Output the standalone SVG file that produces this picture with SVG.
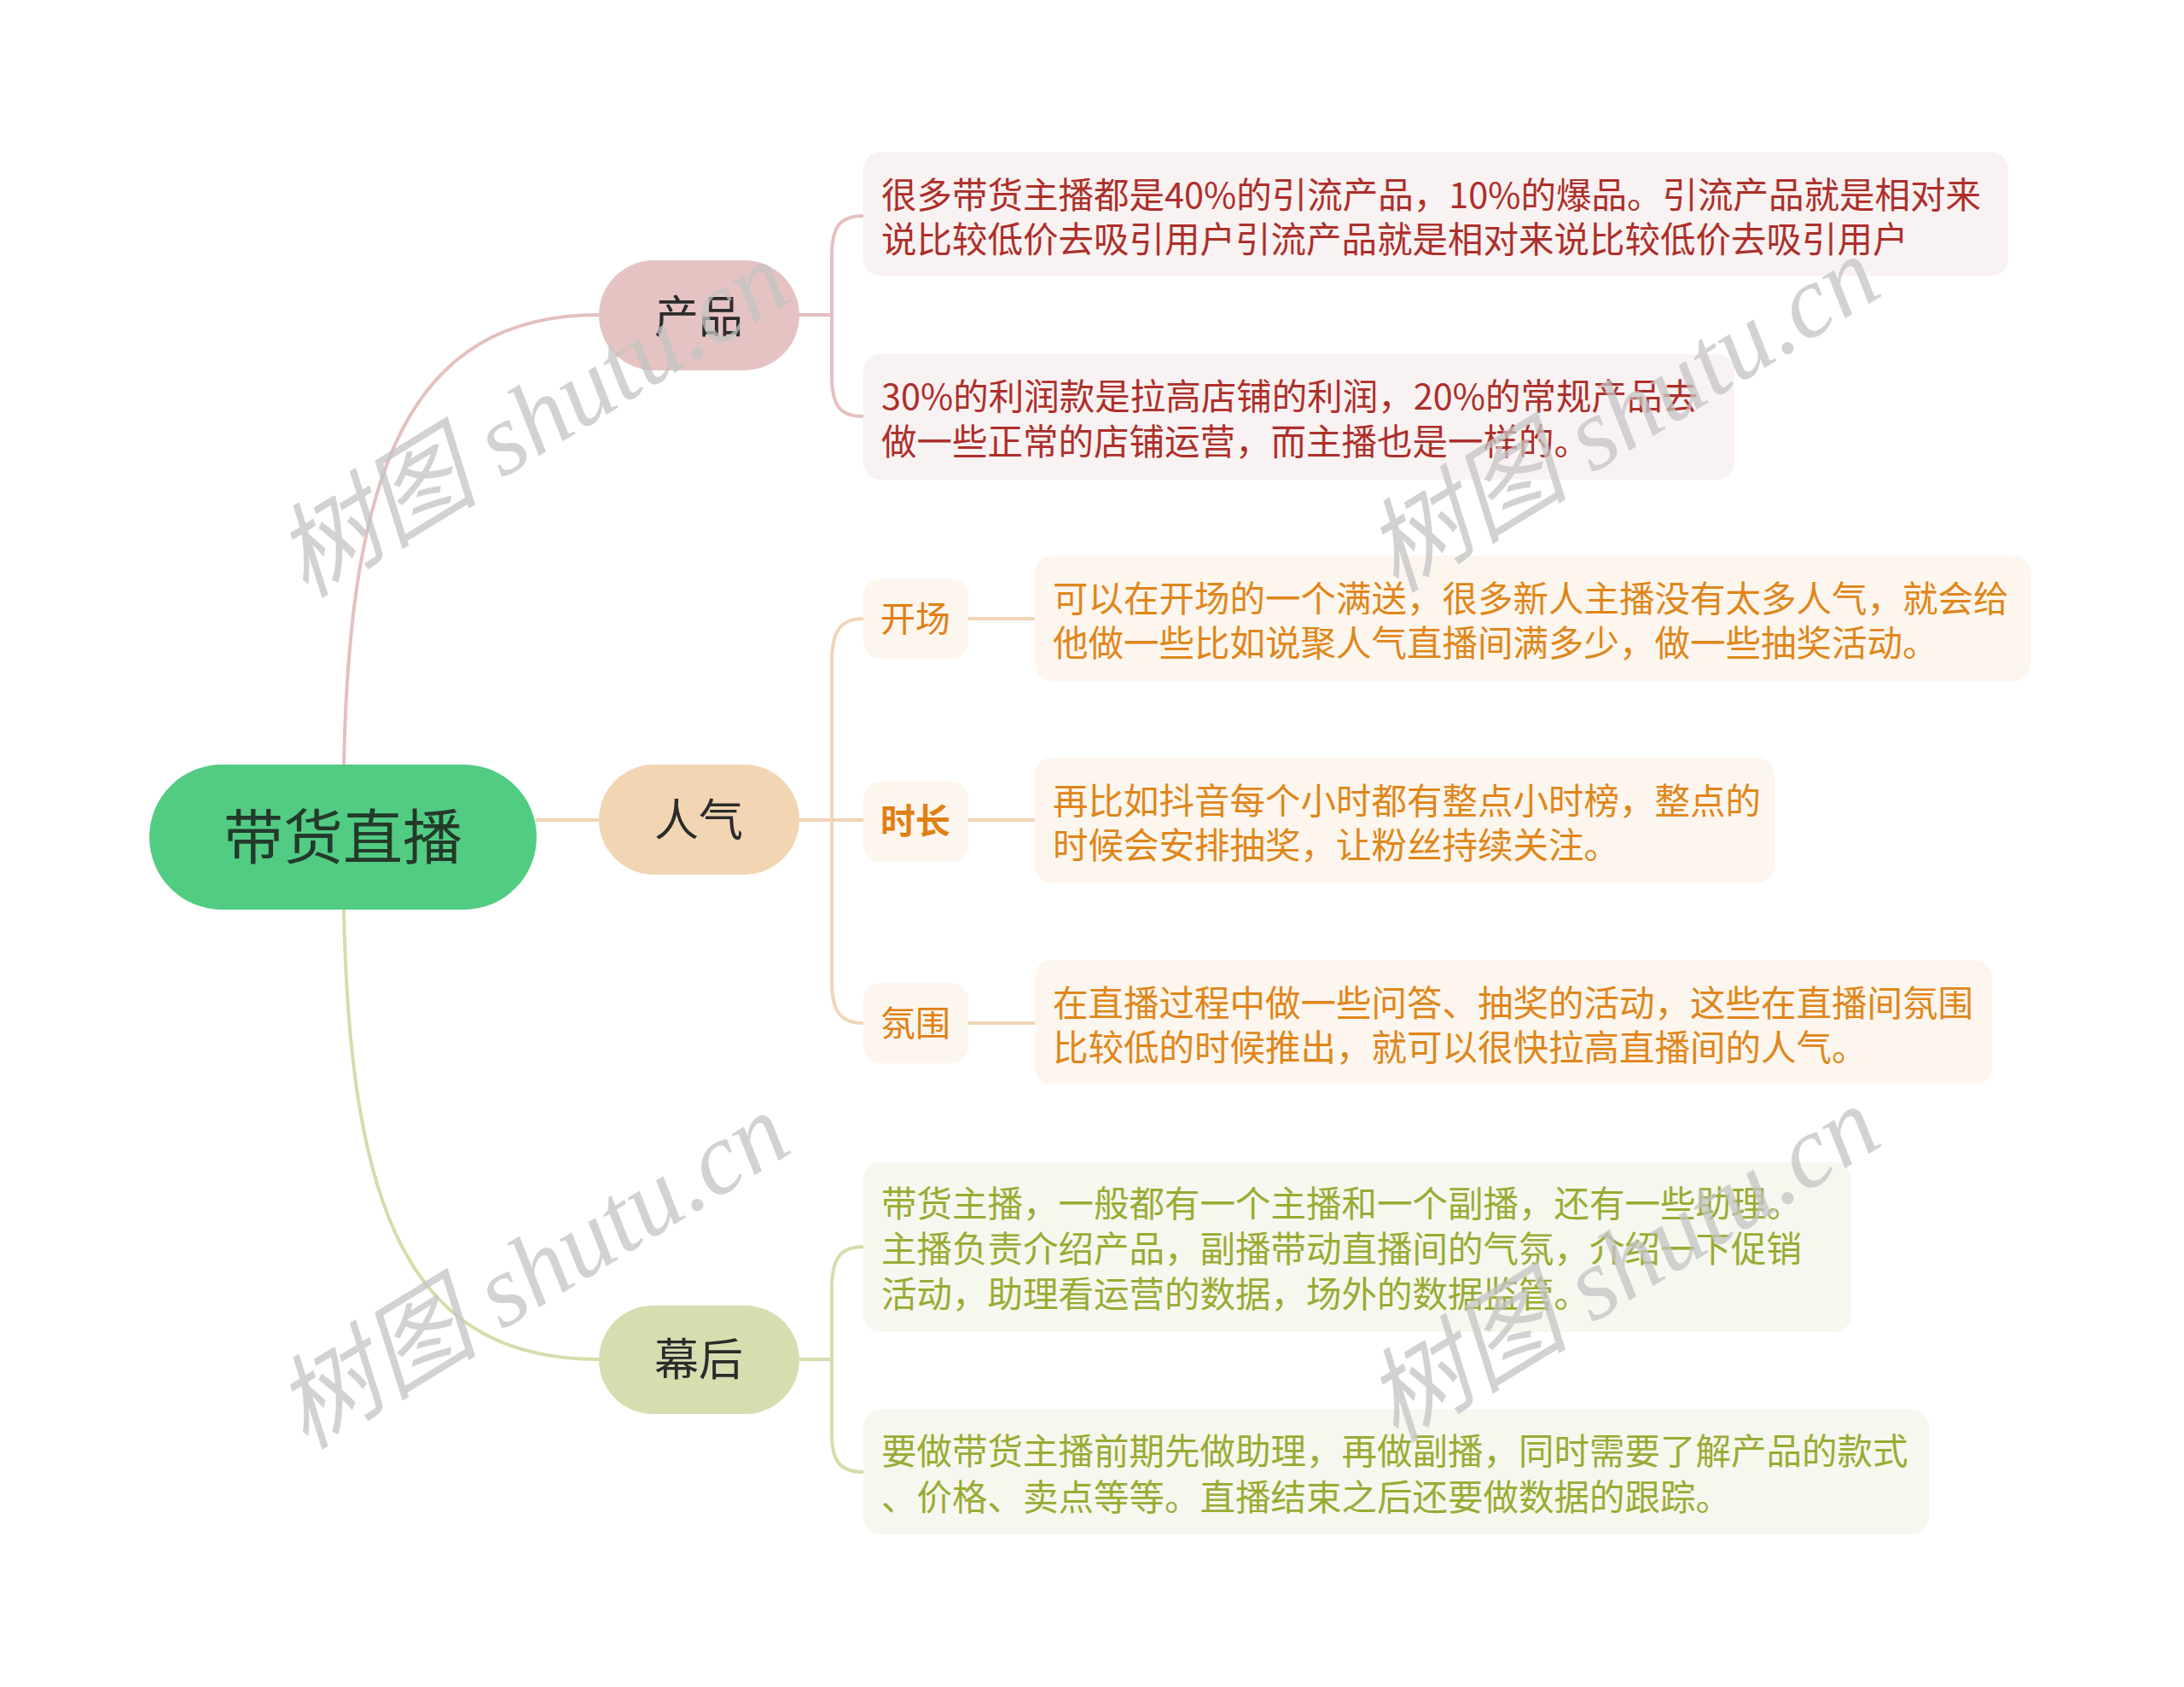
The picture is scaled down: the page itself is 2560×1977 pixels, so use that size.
<svg xmlns="http://www.w3.org/2000/svg" width="2560" height="1977" viewBox="0 0 2560 1977">
<style>
text{font-family:"Noto Sans CJK SC","Noto Sans",sans-serif;}
.c{fill:none;stroke-width:4;stroke-linecap:round}
.cp{stroke:#e4c0c0}
.co{stroke:#f1d5b5}
.cg{stroke:#d7dcab}
.l1{font-size:52px;fill:#2b2b2b;text-anchor:middle}
.t{font-size:41.5px}
.tp{fill:#ad2f2a}
.to{fill:#e0861a}
.tg{fill:#9aab34}
.lb{font-size:41px;fill:#e07f14;text-anchor:middle}
.wm{font-family:"Liberation Serif","Noto Sans CJK SC",serif;font-size:120px;font-style:italic;fill:#c4c4c4;opacity:0.75}
</style>
<rect width="2560" height="1977" fill="#ffffff"/>
<g id="connectors">
<path class="c cp" d="M403 896 C 410 550, 480 369, 702 369"/>
<path class="c co" d="M629 961 H 702"/>
<path class="c cg" d="M403 1066 C 410 1420, 480 1593, 702 1593"/>
<path class="c cp" d="M937 369 H 975"/>
<path class="c cp" d="M1012 253 C 985 253, 975 265, 975 300 V 440 C 975 476, 985 488, 1012 488"/>
<path class="c co" d="M937 961 H 1012"/>
<path class="c co" d="M1012 725 C 985 725, 975 740, 975 775 V 1150 C 975 1185, 985 1199, 1012 1199"/>
<path class="c co" d="M1135 725 H 1213"/>
<path class="c co" d="M1135 961 H 1213"/>
<path class="c co" d="M1135 1199 H 1213"/>
<path class="c cg" d="M937 1593 H 975"/>
<path class="c cg" d="M1012 1461 C 985 1461, 975 1475, 975 1510 V 1680 C 975 1713, 985 1725, 1012 1725"/>
</g>
<g id="root">
<rect x="175" y="896" width="454" height="170" rx="85" fill="#52cc83"/>
<text x="402" y="1007" font-size="70" fill="#233a2b" text-anchor="middle">带货直播</text>
</g>
<g id="n-chanpin">
<rect x="702" y="305" width="235" height="129" rx="64.5" fill="#e6c3c3"/>
<text class="l1" x="819" y="390">产品</text>
</g>
<g id="n-renqi">
<rect x="702" y="896" width="235" height="129" rx="64.5" fill="#f2d5b3"/>
<text class="l1" x="819" y="980">人气</text>
</g>
<g id="n-muhou">
<rect x="702" y="1530" width="235" height="127" rx="63.5" fill="#d8ddb0"/>
<text class="l1" x="819" y="1612">幕后</text>
</g>
<g id="p1">
<rect x="1012" y="178" width="1342" height="145" rx="20" fill="#f9f2f2"/>
<text class="t tp" x="1033" y="244">很多带货主播都是40%的引流产品，10%的爆品。引流产品就是相对来</text>
<text class="t tp" x="1033" y="296">说比较低价去吸引用户引流产品就是相对来说比较低价去吸引用户</text>
</g>
<g id="p2">
<rect x="1012" y="415" width="1021" height="147" rx="20" fill="#f9f2f2"/>
<text class="t tp" x="1033" y="480">30%的利润款是拉高店铺的利润，20%的常规产品去</text>
<text class="t tp" x="1033" y="533">做一些正常的店铺运营，而主播也是一样的。</text>
</g>
<g id="l-kaichang">
<rect x="1012" y="678" width="123" height="94" rx="20" fill="#fdf6ee"/>
<text class="lb" x="1073" y="740">开场</text>
</g>
<g id="l-shichang">
<rect x="1012" y="916" width="123" height="94" rx="20" fill="#fdf6ee"/>
<text class="lb" x="1073" y="977" font-weight="bold">时长</text>
</g>
<g id="l-fenwei">
<rect x="1012" y="1152" width="123" height="94" rx="20" fill="#fdf6ee"/>
<text class="lb" x="1073" y="1214">氛围</text>
</g>
<g id="o1">
<rect x="1213" y="651" width="1167" height="147" rx="20" fill="#fdf6ee"/>
<text class="t to" x="1234" y="717">可以在开场的一个满送，很多新人主播没有太多人气，就会给</text>
<text class="t to" x="1234" y="769">他做一些比如说聚人气直播间满多少，做一些抽奖活动。</text>
</g>
<g id="o2">
<rect x="1213" y="888" width="867" height="147" rx="20" fill="#fdf6ee"/>
<text class="t to" x="1234" y="954">再比如抖音每个小时都有整点小时榜，整点的</text>
<text class="t to" x="1234" y="1006">时候会安排抽奖，让粉丝持续关注。</text>
</g>
<g id="o3">
<rect x="1213" y="1125" width="1122" height="146" rx="20" fill="#fdf6ee"/>
<text class="t to" x="1234" y="1191">在直播过程中做一些问答、抽奖的活动，这些在直播间氛围</text>
<text class="t to" x="1234" y="1243">比较低的时候推出，就可以很快拉高直播间的人气。</text>
</g>
<g id="g1">
<rect x="1012" y="1362" width="1158" height="199" rx="20" fill="#f6f7ee"/>
<text class="t tg" x="1033" y="1426">带货主播，一般都有一个主播和一个副播，还有一些助理。</text>
<text class="t tg" x="1033" y="1479">主播负责介绍产品，副播带动直播间的气氛，介绍一下促销</text>
<text class="t tg" x="1033" y="1532">活动，助理看运营的数据，场外的数据监管。</text>
</g>
<g id="g2">
<rect x="1012" y="1652" width="1249" height="146" rx="20" fill="#f6f7ee"/>
<text class="t tg" x="1033" y="1716">要做带货主播前期先做助理，再做副播，同时需要了解产品的款式</text>
<text class="t tg" x="1033" y="1770">、价格、卖点等等。直播结束之后还要做数据的跟踪。</text>
</g>
<g id="watermarks">
<text class="wm" transform="translate(358 702) rotate(-31.5)">树图 shutu.cn</text>
<text class="wm" transform="translate(1636 696) rotate(-31.5)">树图 shutu.cn</text>
<text class="wm" transform="translate(358 1700) rotate(-31.5)">树图 shutu.cn</text>
<text class="wm" transform="translate(1636 1692) rotate(-31.5)">树图 shutu.cn</text>
</g>
</svg>
